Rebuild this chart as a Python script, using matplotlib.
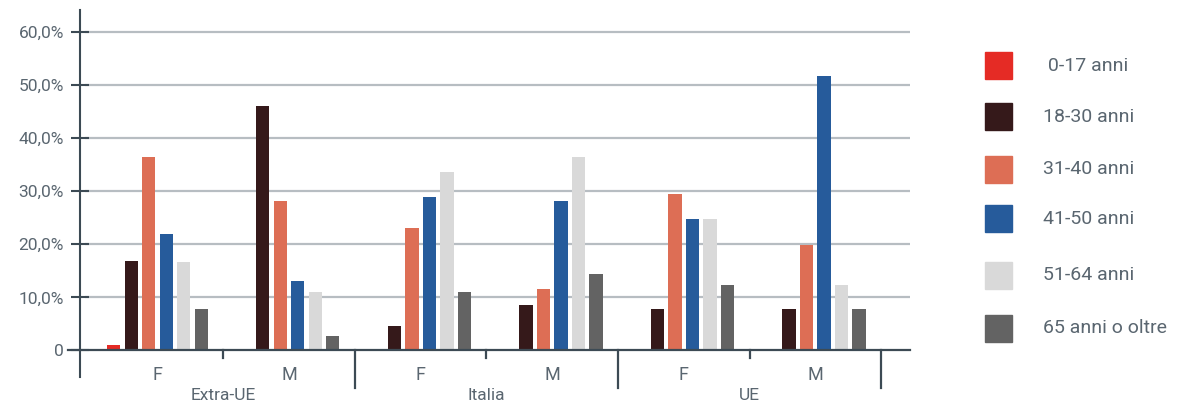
import numpy as np
import matplotlib.pyplot as plt
from matplotlib.patches import Rectangle

plt.rcParams['font.family'] = ['Roboto', 'DejaVu Sans']

groups = ["Extra-UE", "Italia", "UE"]
sexes = ["F", "M"]
ages = [" 0-17 anni", "18-30 anni", "31-40 anni", "41-50 anni", "51-64 anni", "65 anni o oltre"]

# percent per age class, order: Extra-UE F, Extra-UE M, Italia F, Italia M, UE F, UE M
v_0_17 = [1.1, 0.0, 0.2, 0.0, 0.2, 0.2]
v_18_30 = [16.9, 46.1, 4.6, 8.6, 7.8, 7.8]
v_31_40 = [36.5, 28.2, 23.1, 11.6, 29.5, 19.9]
v_41_50 = [22.0, 13.1, 28.9, 28.2, 24.8, 51.7]
v_51_64 = [16.7, 11.0, 33.6, 36.5, 24.8, 12.4]
v_65 = [7.8, 2.7, 11.0, 14.4, 12.4, 7.8]
series = [v_0_17, v_18_30, v_31_40, v_41_50, v_51_64, v_65]

colors = ["#e52b25", "#35191a", "#dd6e55", "#265b9b", "#d9d9d9", "#636363"]
dark = "#3c4a54"
txt = "#5a6670"
gridc = "#b7bdc2"

fig = plt.figure(figsize=(11.78, 4.08), dpi=100)
ax = fig.add_axes([80/1178, 31/408, 830/1178, 367/408])

x = np.arange(len(groups) * len(sexes))
step = 0.133
for i, vals in enumerate(series):
    ax.bar(x + (i - 2.5) * step, vals, width=0.1, color=colors[i], zorder=3)

ax.set_xlim(-0.59, 5.72)
ax.set_ylim(-5, 64.1)

yt = np.arange(0, 61, 10)
ax.hlines(yt[1:], -0.55, 5.72, color=gridc, lw=1.6, zorder=1)
ax.plot([-0.68, 5.72], [0, 0], color=dark, lw=1.6, clip_on=False, zorder=4)

ax.set_yticks(yt)
ax.set_yticklabels(["0"] + ["%d,0%%" % v for v in yt[1:]])
ax.tick_params(axis='y', direction='inout', length=13, width=1.5, color=dark,
               labelsize=12.5, labelcolor=txt, pad=5)
ax.set_xticks([])

for s in ["top", "right", "bottom"]:
    ax.spines[s].set_visible(False)
ax.spines["left"].set_color(dark)
ax.spines["left"].set_linewidth(1.5)

# separators
for k in range(len(groups)):
    ax.plot([2*k + 0.5]*2, [0, -1.5], color=dark, lw=1.6, clip_on=False)
    ax.plot([2*k + 1.5]*2, [0, -7], color=dark, lw=1.6, clip_on=False)
    ax.text(2*k + 0.5, -8.5, groups[k], ha='center', va='center',
            fontsize=12.5, color=txt)
    for j, s in enumerate(sexes):
        ax.text(2*k + j, -4.6, s, ha='center', va='center',
                fontsize=13, color=txt)

# legend
leg_y = [65.7, 116.7, 169, 218.7, 275.3, 328]
for lab, c, yy in zip(ages, colors, leg_y):
    fig.patches.append(Rectangle((985/1178, (408 - yy - 13.5)/408), 27/1178, 27/408,
                                 transform=fig.transFigure, color=c))
    fig.text(1043/1178, (408 - yy)/408, lab, ha='left', va='center',
             fontsize=14, color=txt)

fig.savefig("out.png", dpi=100)
